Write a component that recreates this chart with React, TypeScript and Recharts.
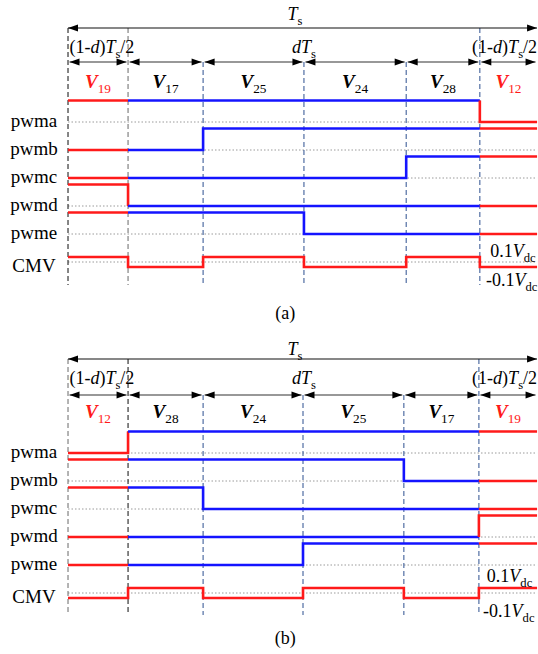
import React from 'react';
import { LineChart, Line, XAxis, YAxis, ReferenceLine, ReferenceDot } from 'recharts';

// ---------------- data ----------------
const rowNames = ['pwma', 'pwmb', 'pwmc', 'pwmd', 'pwme', 'CMV'];

// Panel (a): switching instants (Ts = 100) and vectors
const timesA = [0, 12.8, 28.8, 50.3, 72.1, 87.8, 100];
const vectorsA = ['19', '17', '25', '24', '28', '12'];
const zeroA = [true, false, false, false, false, true];
const pwmaA = [1, 1, 1, 1, 1, 0];
const pwmbA = [0, 0, 1, 1, 1, 1];
const pwmcA = [0, 0, 0, 0, 1, 1];
const pwmdA = [1, 0, 0, 0, 0, 0];
const pwmeA = [1, 1, 1, 0, 0, 0];
const cmvA = [0.1, -0.1, 0.1, -0.1, 0.1, -0.1];

// Panel (b)
const timesB = [0, 12.8, 28.8, 50.1, 71.6, 87.6, 100];
const vectorsB = ['12', '28', '24', '25', '17', '19'];
const zeroB = [true, false, false, false, false, true];
const pwmaB = [0, 1, 1, 1, 1, 1];
const pwmbB = [1, 1, 1, 1, 0, 0];
const pwmcB = [1, 1, 0, 0, 0, 0];
const pwmdB = [0, 0, 0, 0, 0, 1];
const pwmeB = [0, 0, 0, 1, 1, 1];
const cmvB = [-0.1, 0.1, -0.1, 0.1, -0.1, 0.1];

const cmvLevels = ['0.1', '-0.1'];

// ---------------- styling / layout ----------------
const W = 538;
const X_DOMAIN: [number, number] = [-14.5, 100.2];
const FONT = '"Liberation Serif", "Times New Roman", serif';
const RED = '#ff1a1a';
const BLUE = '#1414ff';
const VBLUE = '#40609a';

type Part = { s: string; i?: boolean; b?: boolean; sub?: boolean };

function Rich(props: any) {
  const { x, y, parts, size, anchor = 'middle', fill = '#000' } = props;
  let prevSub = false;
  const subDy = size * 0.28;
  return (
    <text x={x} y={y} textAnchor={anchor} fontFamily={FONT} fontSize={size} fill={fill}>
      {parts.map((p: Part, k: number) => {
        let dy = 0;
        if (p.sub && !prevSub) dy = subDy;
        else if (!p.sub && prevSub) dy = -subDy;
        prevSub = !!p.sub;
        return (
          <tspan
            key={k}
            dy={dy || undefined}
            fontStyle={p.i ? 'italic' : undefined}
            fontWeight={p.b ? 'bold' : undefined}
            fontSize={p.sub ? size * 0.7 : undefined}
          >
            {p.s}
          </tspan>
        );
      })}
    </text>
  );
}

function DArrow(props: any) {
  const { x1, y1, x2, y2, color, inset = 0 } = props;
  const L = 10;
  const h = 3.6;
  const a = x1 + inset;
  const b = x2 - inset;
  return (
    <g>
      <line x1={a} y1={y1} x2={b} y2={y2} stroke={color} strokeWidth={1.2} />
      <polygon points={`${a},${y1} ${a + L},${y1 - h} ${a + L},${y1 + h}`} fill="#000" />
      <polygon points={`${b},${y2} ${b - L},${y2 - h} ${b - L},${y2 + h}`} fill="#000" />
    </g>
  );
}

const layoutA = {
  H: 331, tsY: 28, subY: 62, tsTextY: 20, subTextY: 53, vY: 88,
  row0: 122, gap: 28, amp: 21.5, cmvScale: 50, vBottom: 285,
  c0: '#222', c1: '#777', posX: 90, posY: 257, negX: 89.1, negY: 286, capY: 319,
};
const layoutB = {
  H: 323, tsY: 28, subY: 64, tsTextY: 24, subTextY: 53, vY: 87,
  row0: 122, gap: 28, amp: 21.5, cmvScale: 50, vBottom: 284,
  c0: '#777', c1: '#222', posX: 89.3, posY: 251, negX: 88.5, negY: 286, capY: 313,
};

function Panel(props: any) {
  const { times, vectors, zero, pwm, cmv, caption, L } = props;
  const rowY = (r: number) => L.row0 + r * L.gap;
  const n = times.length - 1;

  const steps = (lv: number[], yf: (v: number) => number, a: number, b: number) => {
    const out: any[] = [];
    for (let i = a; i <= b; i++) {
      out.push({ t: times[i], y: yf(lv[i]) });
      out.push({ t: times[i + 1], y: yf(lv[i]) });
    }
    return out;
  };

  const lines: any[] = [];
  pwm.forEach((lv: number[], r: number) => {
    const yf = (v: number) => rowY(r) - v * L.amp;
    const redStart = [...steps(lv, yf, 0, 0), { t: times[1], y: yf(lv[1]) }];
    const blue = steps(lv, yf, 1, n - 2);
    const redEnd = [{ t: times[n - 1], y: yf(lv[n - 2]) }, ...steps(lv, yf, n - 1, n - 1)];
    lines.push({ key: `r${r}s`, data: redStart, color: RED });
    lines.push({ key: `r${r}b`, data: blue, color: BLUE });
    lines.push({ key: `r${r}e`, data: redEnd, color: RED });
  });
  const cy = (v: number) => rowY(5) - v * L.cmvScale;
  lines.push({ key: 'cmv', data: steps(cmv, cy, 0, n - 1), color: RED });

  const txt = (key: string, t: number, y: number, parts: Part[], size: number, anchor = 'middle', fill = '#000') => (
    <ReferenceDot
      key={key}
      x={t}
      y={y}
      r={0}
      ifOverflow="visible"
      shape={(p: any) => <Rich x={p.cx} y={p.cy} parts={parts} size={size} anchor={anchor} fill={fill} />}
    />
  );

  const halfLabel: Part[] = [{ s: '(1-' }, { s: 'd', i: true }, { s: ')' }, { s: 'T', i: true }, { s: 's', sub: true }, { s: '/2' }];

  return (
    <LineChart width={W} height={L.H} margin={{ top: 0, right: 0, bottom: 0, left: 0 }}>
      <XAxis type="number" dataKey="t" domain={X_DOMAIN} hide allowDataOverflow />
      <YAxis type="number" domain={[0, L.H]} reversed hide allowDataOverflow />
      {rowNames.map((_, r) => (
        <ReferenceLine
          key={`base${r}`}
          segment={[{ x: times[0], y: rowY(r) }, { x: times[n], y: rowY(r) }]}
          stroke="#9a9a9a"
          strokeWidth={1}
          strokeDasharray="1.5 2"
          ifOverflow="visible"
        />
      ))}
      {times.slice(0, n).map((t: number, i: number) => (
        <ReferenceLine
          key={`v${i}`}
          segment={[{ x: t, y: i === 0 || i === 1 || i === n - 1 ? L.tsY : L.subY }, { x: t, y: L.vBottom }]}
          stroke={i === 0 ? L.c0 : i === 1 ? L.c1 : VBLUE}
          strokeWidth={1.1}
          strokeDasharray="5 3"
          ifOverflow="visible"
        />
      ))}
      {lines.map((ln) => (
        <Line
          key={ln.key}
          data={ln.data}
          dataKey="y"
          type="linear"
          stroke={ln.color}
          strokeWidth={2.6}
          dot={false}
          activeDot={false}
          isAnimationActive={false}
        />
      ))}
      <ReferenceLine
        segment={[{ x: times[0], y: L.tsY }, { x: times[n], y: L.tsY }]}
        ifOverflow="visible"
        shape={(p: any) => <DArrow x1={p.x1} y1={p.y1} x2={p.x2} y2={p.y2} color="#111" />}
      />
      {times.slice(0, n).map((t: number, i: number) => (
        <ReferenceLine
          key={`sa${i}`}
          segment={[{ x: t, y: L.subY }, { x: times[i + 1], y: L.subY }]}
          ifOverflow="visible"
          shape={(p: any) => <DArrow x1={p.x1} y1={p.y1} x2={p.x2} y2={p.y2} color="#333" inset={1.5} />}
        />
      ))}
      {txt('ts', 48.4, L.tsTextY, [{ s: 'T', i: true }, { s: 's', sub: true }], 18)}
      {txt('h1', 0.3, L.subTextY, halfLabel, 18, 'start')}
      {txt('h2', times[n], L.subTextY, halfLabel, 18, 'end')}
      {txt('dts', 50.3, L.subTextY, [{ s: 'd', i: true }, { s: 'T', i: true }, { s: 's', sub: true }], 18)}
      {vectors.map((v: string, i: number) =>
        txt(`vec${i}`, (times[i] + times[i + 1]) / 2, L.vY, [{ s: 'V', i: true, b: true }, { s: v, sub: true }], 19, 'middle', zero[i] ? RED : '#000')
      )}
      {rowNames.map((name, r) => txt(`rn${r}`, -7.25, rowY(r) + (r === 5 ? 10 : 5), [{ s: name }], 19))}
      {txt('pos', L.posX, L.posY, [{ s: cmvLevels[0] }, { s: 'V', i: true }, { s: 'dc', sub: true }], 18, 'start')}
      {txt('neg', L.negX, L.negY, [{ s: cmvLevels[1] }, { s: 'V', i: true }, { s: 'dc', sub: true }], 18, 'start')}
      {txt('cap', 46.3, L.capY, [{ s: caption }], 18)}
    </LineChart>
  );
}

export default function App() {
  return (
    <div style={{ position: 'absolute', left: 0, top: 0, width: W, height: 654, background: '#fff' }}>
      <Panel
        times={timesA}
        vectors={vectorsA}
        zero={zeroA}
        pwm={[pwmaA, pwmbA, pwmcA, pwmdA, pwmeA]}
        cmv={cmvA}
        caption="(a)"
        L={layoutA}
      />
      <Panel
        times={timesB}
        vectors={vectorsB}
        zero={zeroB}
        pwm={[pwmaB, pwmbB, pwmcB, pwmdB, pwmeB]}
        cmv={cmvB}
        caption="(b)"
        L={layoutB}
      />
    </div>
  );
}
